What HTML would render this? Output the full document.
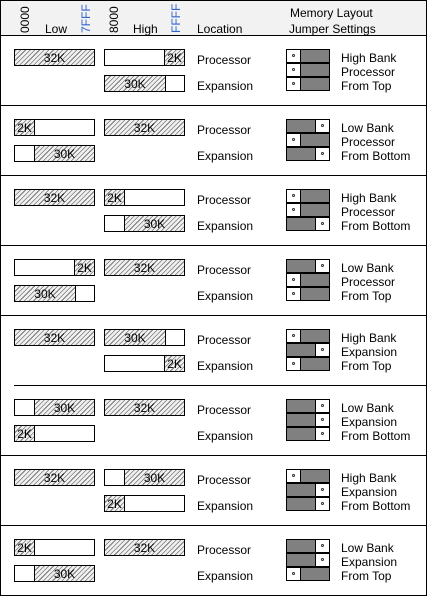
<!DOCTYPE html><html><head><style>
body{margin:0;width:427px;height:596px;position:relative;background:#fff;font-family:"Liberation Sans",sans-serif;font-size:12px;color:#000;overflow:hidden}
.a{position:absolute}
.frame{left:0;top:0;width:425px;height:594px;border:1px solid #000}
.hd{left:1px;top:1px;width:425px;height:34px;background:#f2f2f2}
.hl{left:0;width:427px;height:1px;background:#000}
.b{position:absolute;width:81px;height:17px;border:1px solid #000;box-sizing:border-box;background:#fff}
.s{position:absolute;top:0;height:15px;line-height:16px;text-align:center;box-sizing:border-box;background:repeating-linear-gradient(-45deg,#f0f0f0 0,#f0f0f0 2.5px,#777 2.5px,#777 3.3px)}
.sl{border-right:1px solid #000}.sr{border-left:1px solid #000}
.t{position:absolute;white-space:nowrap;margin-top:3px}
.j{position:absolute;width:44px;height:14px;border:1px solid #000;box-sizing:border-box;background:#808080}
.j i{position:absolute;top:0;width:14px;height:12px;background:#fff;box-sizing:border-box}
.j i:after{content:"";position:absolute;left:5px;top:4px;width:3px;height:3px;border:1px solid #333;border-radius:50%;box-sizing:border-box}
.L i{left:0;border-right:1px solid #000}.R i{right:0;border-left:1px solid #000}
.rot{position:absolute;transform:rotate(-90deg);transform-origin:left top;white-space:nowrap}
</style></head><body>
<div class="a hd"></div>
<div class="a frame"></div>
<div class="rot" style="left:18px;top:33px">0000</div>
<div class="t" style="left:45px;top:19px">Low</div>
<div class="rot" style="left:79px;top:33px;color:#36c">7FFF</div>
<div class="rot" style="left:107px;top:33px">8000</div>
<div class="t" style="left:133px;top:19px">High</div>
<div class="rot" style="left:169px;top:33px;color:#36c">FFFF</div>
<div class="t" style="left:197px;top:19px">Location</div>
<div class="t" style="left:290px;top:3px">Memory Layout</div>
<div class="t" style="left:289px;top:19px">Jumper Settings</div>

<div class="a hl" style="top:35px"></div>
<div class="a hl" style="top:105px"></div>
<div class="a hl" style="top:175px"></div>
<div class="a hl" style="top:245px"></div>
<div class="a hl" style="top:315px"></div>
<div class="a hl" style="top:385px;left:14px;width:413px"></div>
<div class="a hl" style="top:455px"></div>
<div class="a hl" style="top:525px"></div>

<!-- Row 1 -->
<div style="position:absolute;left:0;top:35px;width:427px;height:70px">
<div class="b" style="left:14px;top:14px"><div class="s" style="left:0;width:79px">32K</div></div>
<div class="b" style="left:104px;top:14px"><div class="s sr" style="right:0;width:20px">2K</div></div>
<div class="b" style="left:104px;top:40px"><div class="s sl" style="left:0;width:61px">30K</div></div>
<div class="t" style="left:197px;top:15px">Processor</div><div class="t" style="left:197px;top:41px">Expansion</div>
<div class="j L" style="left:286px;top:14px"><i></i></div><div class="j L" style="left:286px;top:28px"><i></i></div><div class="j L" style="left:286px;top:42px"><i></i></div>
<div class="t" style="left:341px;top:13px">High Bank</div><div class="t" style="left:341px;top:27px">Processor</div><div class="t" style="left:341px;top:41px">From Top</div>
</div>

<!-- Row 2 -->
<div style="position:absolute;left:0;top:105px;width:427px;height:70px">
<div class="b" style="left:14px;top:14px"><div class="s sl" style="left:0;width:20px">2K</div></div>
<div class="b" style="left:14px;top:40px"><div class="s sr" style="right:0;width:60px">30K</div></div>
<div class="b" style="left:104px;top:14px"><div class="s" style="left:0;width:79px">32K</div></div>
<div class="t" style="left:197px;top:15px">Processor</div><div class="t" style="left:197px;top:41px">Expansion</div>
<div class="j R" style="left:286px;top:14px"><i></i></div><div class="j L" style="left:286px;top:28px"><i></i></div><div class="j R" style="left:286px;top:42px"><i></i></div>
<div class="t" style="left:341px;top:13px">Low Bank</div><div class="t" style="left:341px;top:27px">Processor</div><div class="t" style="left:341px;top:41px">From Bottom</div>
</div>

<!-- Row 3 -->
<div style="position:absolute;left:0;top:175px;width:427px;height:70px">
<div class="b" style="left:14px;top:14px"><div class="s" style="left:0;width:79px">32K</div></div>
<div class="b" style="left:104px;top:14px"><div class="s sl" style="left:0;width:20px">2K</div></div>
<div class="b" style="left:104px;top:40px"><div class="s sr" style="right:0;width:60px">30K</div></div>
<div class="t" style="left:197px;top:15px">Processor</div><div class="t" style="left:197px;top:41px">Expansion</div>
<div class="j L" style="left:286px;top:14px"><i></i></div><div class="j L" style="left:286px;top:28px"><i></i></div><div class="j R" style="left:286px;top:42px"><i></i></div>
<div class="t" style="left:341px;top:13px">High Bank</div><div class="t" style="left:341px;top:27px">Processor</div><div class="t" style="left:341px;top:41px">From Bottom</div>
</div>

<!-- Row 4 -->
<div style="position:absolute;left:0;top:245px;width:427px;height:70px">
<div class="b" style="left:14px;top:14px"><div class="s sr" style="right:0;width:20px">2K</div></div>
<div class="b" style="left:14px;top:40px"><div class="s sl" style="left:0;width:61px">30K</div></div>
<div class="b" style="left:104px;top:14px"><div class="s" style="left:0;width:79px">32K</div></div>
<div class="t" style="left:197px;top:15px">Processor</div><div class="t" style="left:197px;top:41px">Expansion</div>
<div class="j R" style="left:286px;top:14px"><i></i></div><div class="j L" style="left:286px;top:28px"><i></i></div><div class="j L" style="left:286px;top:42px"><i></i></div>
<div class="t" style="left:341px;top:13px">Low Bank</div><div class="t" style="left:341px;top:27px">Processor</div><div class="t" style="left:341px;top:41px">From Top</div>
</div>

<!-- Row 5 -->
<div style="position:absolute;left:0;top:315px;width:427px;height:70px">
<div class="b" style="left:14px;top:14px"><div class="s" style="left:0;width:79px">32K</div></div>
<div class="b" style="left:104px;top:14px"><div class="s sl" style="left:0;width:61px">30K</div></div>
<div class="b" style="left:104px;top:40px"><div class="s sr" style="right:0;width:20px">2K</div></div>
<div class="t" style="left:197px;top:15px">Processor</div><div class="t" style="left:197px;top:41px">Expansion</div>
<div class="j L" style="left:286px;top:14px"><i></i></div><div class="j R" style="left:286px;top:28px"><i></i></div><div class="j L" style="left:286px;top:42px"><i></i></div>
<div class="t" style="left:341px;top:13px">High Bank</div><div class="t" style="left:341px;top:27px">Expansion</div><div class="t" style="left:341px;top:41px">From Top</div>
</div>

<!-- Row 6 -->
<div style="position:absolute;left:0;top:385px;width:427px;height:70px">
<div class="b" style="left:14px;top:14px"><div class="s sr" style="right:0;width:60px">30K</div></div>
<div class="b" style="left:14px;top:40px"><div class="s sl" style="left:0;width:20px">2K</div></div>
<div class="b" style="left:104px;top:14px"><div class="s" style="left:0;width:79px">32K</div></div>
<div class="t" style="left:197px;top:15px">Processor</div><div class="t" style="left:197px;top:41px">Expansion</div>
<div class="j R" style="left:286px;top:14px"><i></i></div><div class="j R" style="left:286px;top:28px"><i></i></div><div class="j R" style="left:286px;top:42px"><i></i></div>
<div class="t" style="left:341px;top:13px">Low Bank</div><div class="t" style="left:341px;top:27px">Expansion</div><div class="t" style="left:341px;top:41px">From Bottom</div>
</div>

<!-- Row 7 -->
<div style="position:absolute;left:0;top:455px;width:427px;height:70px">
<div class="b" style="left:14px;top:14px"><div class="s" style="left:0;width:79px">32K</div></div>
<div class="b" style="left:104px;top:14px"><div class="s sr" style="right:0;width:60px">30K</div></div>
<div class="b" style="left:104px;top:40px"><div class="s sl" style="left:0;width:20px">2K</div></div>
<div class="t" style="left:197px;top:15px">Processor</div><div class="t" style="left:197px;top:41px">Expansion</div>
<div class="j L" style="left:286px;top:14px"><i></i></div><div class="j R" style="left:286px;top:28px"><i></i></div><div class="j R" style="left:286px;top:42px"><i></i></div>
<div class="t" style="left:341px;top:13px">High Bank</div><div class="t" style="left:341px;top:27px">Expansion</div><div class="t" style="left:341px;top:41px">From Bottom</div>
</div>

<!-- Row 8 -->
<div style="position:absolute;left:0;top:525px;width:427px;height:70px">
<div class="b" style="left:14px;top:14px"><div class="s sl" style="left:0;width:20px">2K</div></div>
<div class="b" style="left:14px;top:40px"><div class="s sr" style="right:0;width:60px">30K</div></div>
<div class="b" style="left:104px;top:14px"><div class="s" style="left:0;width:79px">32K</div></div>
<div class="t" style="left:197px;top:15px">Processor</div><div class="t" style="left:197px;top:41px">Expansion</div>
<div class="j R" style="left:286px;top:14px"><i></i></div><div class="j R" style="left:286px;top:28px"><i></i></div><div class="j L" style="left:286px;top:42px"><i></i></div>
<div class="t" style="left:341px;top:13px">Low Bank</div><div class="t" style="left:341px;top:27px">Expansion</div><div class="t" style="left:341px;top:41px">From Top</div>
</div>
</body></html>
